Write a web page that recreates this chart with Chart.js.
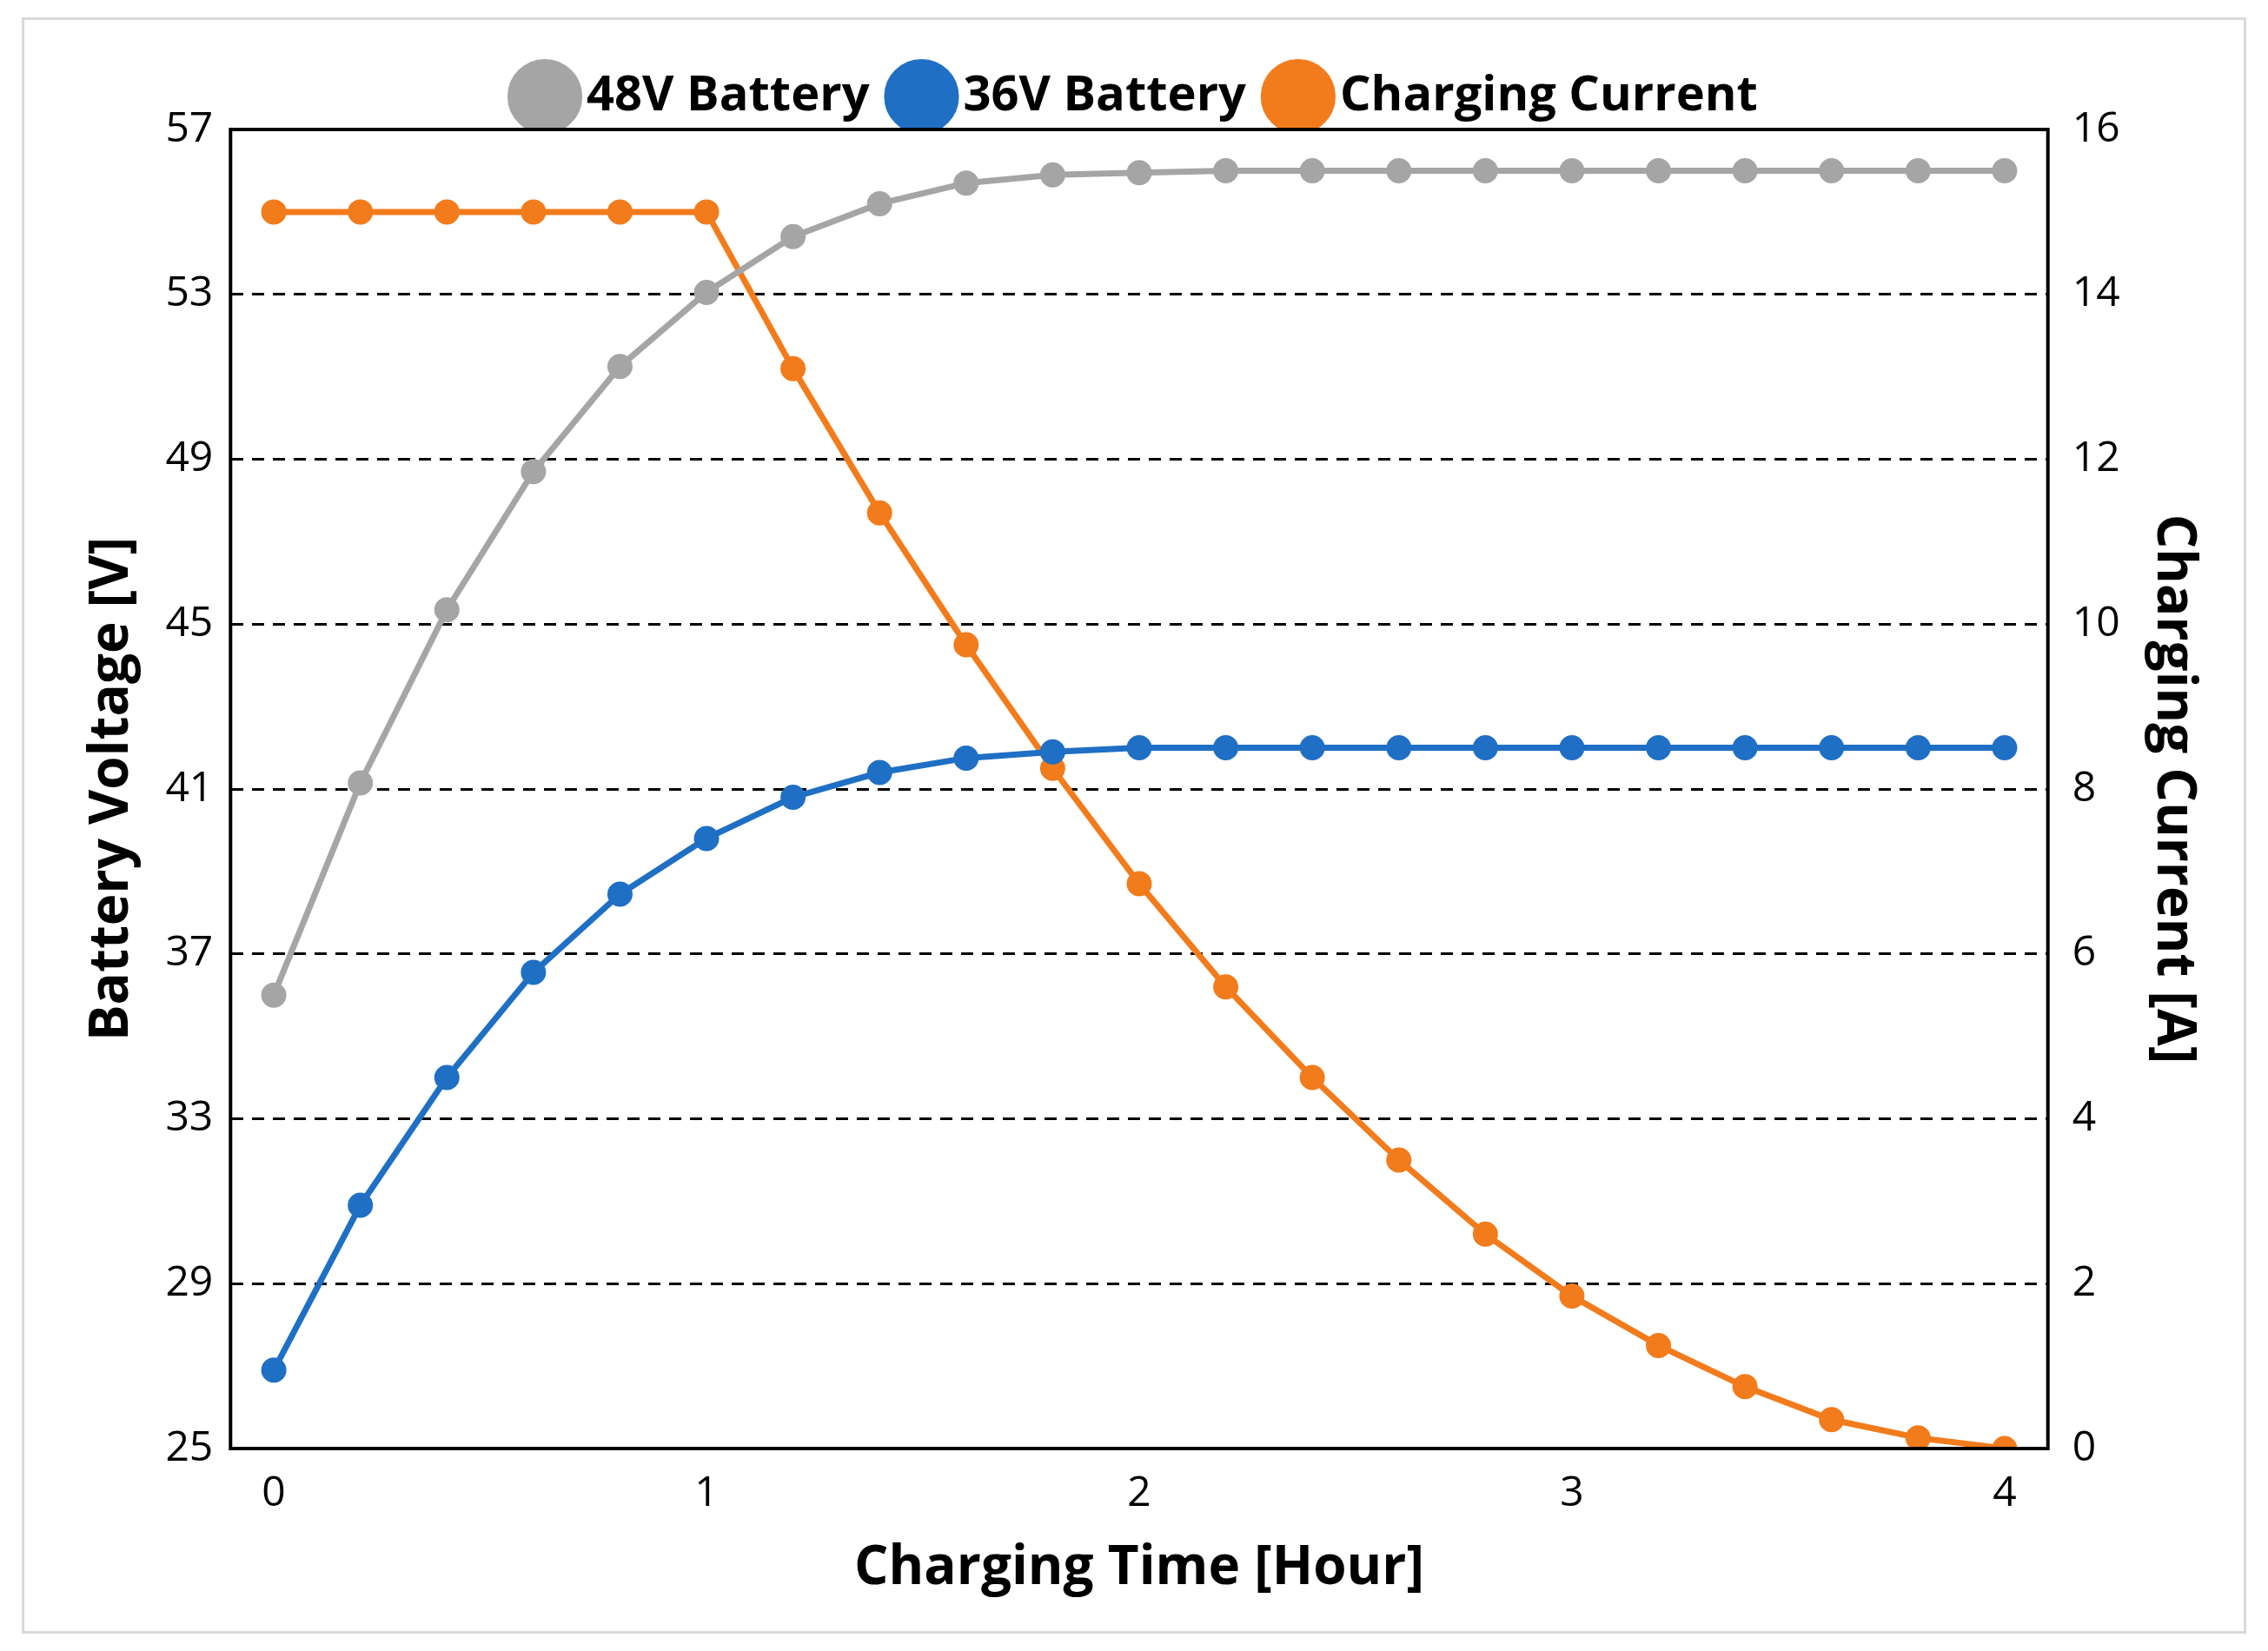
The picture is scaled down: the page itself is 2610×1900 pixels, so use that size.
<!DOCTYPE html>
<html>
<head>
<meta charset="utf-8">
<script src="https://cdn.jsdelivr.net/npm/chart.js@4/dist/chart.umd.min.js"></script>
<style>
  body { margin: 0; background: #fff; }
  #wrap { position: absolute; left: 25px; top: 20px; width: 2560px; height: 1860px; border: 3px solid #d9d9d9; box-sizing: border-box; }
</style>
</head>
<body>
<div id="wrap"><canvas id="chart" width="2554" height="1854"></canvas></div>
<script>
var hours = [0, 0.2, 0.4, 0.6, 0.8, 1, 1.2, 1.4, 1.6, 1.8, 2, 2.2, 2.4, 2.6, 2.8, 3, 3.2, 3.4, 3.6, 3.8, 4];
var battery48 = [36, 41.15, 45.35, 48.7, 51.25, 53.05, 54.4, 55.2, 55.7, 55.9, 55.95, 56, 56, 56, 56, 56, 56, 56, 56, 56, 56];
var battery36 = [26.9, 30.9, 34.0, 36.55, 38.45, 39.8, 40.8, 41.4, 41.75, 41.9, 42, 42, 42, 42, 42, 42, 42, 42, 42, 42, 42];
var current = [15, 15, 15, 15, 15, 15, 13.1, 11.35, 9.75, 8.25, 6.85, 5.6, 4.5, 3.5, 2.6, 1.85, 1.25, 0.75, 0.35, 0.13, 0];

function pts(ys) {
    return hours.map(function(h, i) { return { x: h, y: ys[i] }; });
}

var frame = {
    id: 'frame',
    afterDatasetsDraw: function(chart) {
        var a = chart.chartArea, c = chart.ctx;
        c.save();
        c.strokeStyle = '#000';
        c.lineWidth = 4;
        c.strokeRect(a.left, a.top, a.right - a.left, a.bottom - a.top);
        c.restore();
    }
};

function series(label, ys, color, axis) {
    return {
        label: label,
        data: pts(ys),
        borderColor: color,
        backgroundColor: color,
        borderWidth: 7,
        pointRadius: 11,
        pointHoverRadius: 11,
        yAxisID: axis
    };
}

var tickFont = { family: 'Open Sans', size: 48 };
var titleFont = { family: 'Open Sans', size: 62, weight: 'bold' };

var ctx = document.getElementById('chart').getContext('2d');
new Chart(ctx, {
    type: 'line',
    data: {
        datasets: [
            series('48V Battery', battery48, '#a5a5a5', 'y'),
            series('36V Battery', battery36, '#1f6fc5', 'y'),
            series('Charging Current', current, '#f27b1c', 'y1')
        ]
    },
    options: {
        responsive: false,
        animation: false,
        devicePixelRatio: 1,
        layout: { padding: { left: 60, right: 40, top: 20, bottom: 30 } },
        plugins: {
            legend: {
                labels: { font: { family: 'Open Sans', size: 56, weight: 'bold' }, color: '#000', usePointStyle: true, boxWidth: 40, padding: 40 }
            },
            tooltip: { enabled: false }
        },
        scales: {
            x: {
                type: 'linear', min: -0.1, max: 4.1,
                afterBuildTicks: function(s) { s.ticks = [0, 1, 2, 3, 4].map(function(v) { return { value: v }; }); },
                grid: { display: false },
                ticks: { font: tickFont, color: '#000', padding: 16 },
                title: { display: true, text: 'Charging Time [Hour]', font: titleFont, color: '#000' }
            },
            y: {
                position: 'left', min: 25, max: 57,
                ticks: { stepSize: 4, font: tickFont, color: '#000', padding: 20 },
                grid: { color: '#000', lineWidth: 3, drawTicks: false },
                border: { dash: [14, 10] },
                title: { display: true, text: 'Battery Voltage [V]', font: titleFont, color: '#000' }
            },
            y1: {
                position: 'right', min: 0, max: 16,
                ticks: { stepSize: 2, font: tickFont, color: '#000', padding: 20 },
                grid: { display: false },
                title: { display: true, text: 'Charging Current [A]', font: titleFont, color: '#000' }
            }
        }
    },
    plugins: [frame]
});
</script>
</body>
</html>
